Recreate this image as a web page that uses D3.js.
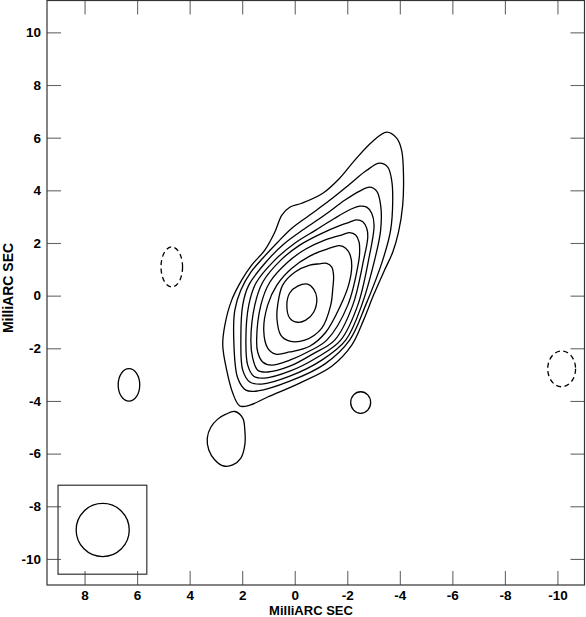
<!DOCTYPE html>
<html>
<head>
<meta charset="utf-8">
<script src="https://cdn.jsdelivr.net/npm/d3@7"></script>
<style>
body{margin:0;background:#fff;}
svg{display:block;font-family:"Liberation Sans",Arial,Helvetica,sans-serif;}
</style>
</head>
<body>
<svg id="map"></svg>
<script>
// tick values (milliarcsec)
var xTicks = [8,6,4,2,0,-2,-4,-6,-8,-10];
var yTicks = [10,8,6,4,2,0,-2,-4,-6,-8,-10];

// closed contours, [RA offset, Dec offset] in mas, outer level first
var level1 = [[-3.50,6.21],[-3.88,5.98],[-4.07,5.52],[-4.14,4.57],[-4.11,3.44],[-3.95,2.41],[-3.73,1.65],[-3.42,0.97],[-3.00,0.02],[-2.62,-0.93],[-2.17,-1.88],[-1.41,-2.68],[-0.19,-3.32],[1.03,-3.85],[1.71,-4.16],[2.09,-4.19],[2.36,-3.70],[2.59,-2.83],[2.74,-1.88],[2.66,-1.12],[2.40,-0.17],[2.02,0.59],[1.64,1.16],[1.14,1.73],[0.76,2.41],[0.49,3.06],[0.19,3.36],[-0.27,3.51],[-1.07,3.89],[-1.71,4.46],[-2.28,5.14],[-2.93,5.83]];
var level2 = [[-3.23,5.03],[-3.54,4.88],[-3.69,4.38],[-3.73,3.62],[-3.65,2.49],[-3.35,1.35],[-2.70,-0.36],[-2.09,-1.69],[-1.14,-2.60],[0.19,-3.25],[1.41,-3.62],[1.86,-3.59],[2.17,-3.13],[2.32,-1.69],[2.28,-0.55],[2.05,0.21],[1.67,0.89],[1.22,1.42],[0.65,2.03],[0.11,2.56],[-0.57,3.06],[-1.33,3.62],[-2.09,4.23],[-2.74,4.76]];
var level3 = [[-2.85,4.12],[-3.12,3.97],[-3.27,3.44],[-3.27,2.49],[-3.04,1.35],[-2.55,-0.36],[-1.94,-1.69],[-1.03,-2.45],[0.19,-3.06],[1.26,-3.36],[1.71,-3.28],[1.98,-2.83],[2.05,-1.69],[1.98,-0.36],[1.75,0.40],[1.03,1.35],[0.38,1.99],[-0.30,2.49],[-1.14,3.06],[-1.90,3.62],[-2.47,3.97]];
var level4 = [[-2.47,3.40],[-2.74,3.36],[-2.93,3.13],[-3.02,2.68],[-2.81,1.35],[-2.40,-0.36],[-1.75,-1.69],[-0.88,-2.33],[0.19,-2.87],[1.14,-3.13],[1.56,-3.06],[1.79,-2.64],[1.86,-1.69],[1.75,-0.36],[1.48,0.47],[0.76,1.35],[0.00,1.99],[-0.80,2.49],[-1.52,2.94],[-2.17,3.30]];
var level5 = [[-2.36,2.88],[-2.59,2.81],[-2.74,2.56],[-2.78,2.22],[-2.62,1.35],[-2.21,-0.36],[-1.52,-1.69],[-0.68,-2.22],[0.19,-2.68],[1.03,-2.90],[1.41,-2.83],[1.60,-2.37],[1.67,-1.69],[1.52,-0.36],[1.22,0.51],[0.53,1.35],[-0.19,1.92],[-0.95,2.33],[-1.71,2.66],[-2.09,2.79]];
var level6 = [[-2.09,2.39],[-2.32,2.30],[-2.45,2.03],[-2.47,1.65],[-2.43,1.27],[-2.02,-0.36],[-1.22,-1.69],[-0.49,-2.14],[0.19,-2.45],[0.88,-2.64],[1.22,-2.52],[1.41,-2.14],[1.45,-1.69],[1.29,-0.36],[0.95,0.51],[0.27,1.27],[-0.42,1.77],[-1.14,2.11],[-1.83,2.32]];
var level7 = [[-1.71,1.90],[-1.94,1.80],[-2.11,1.54],[-2.17,1.12],[-2.05,0.40],[-1.75,-0.36],[-1.18,-1.39],[-0.57,-1.92],[0.19,-2.14],[0.72,-2.22],[1.03,-1.99],[1.18,-1.31],[1.03,-0.36],[0.68,0.40],[0.11,1.04],[-0.57,1.50],[-1.18,1.75],[-1.45,1.84]];
var level8 = [[-1.22,1.23],[-1.41,1.08],[-1.48,0.74],[-1.45,0.29],[-1.37,-0.36],[-1.03,-1.23],[-0.38,-1.69],[0.19,-1.73],[0.53,-1.50],[0.68,-0.85],[0.65,-0.36],[0.46,0.40],[0.00,0.89],[-0.57,1.16],[-0.95,1.21]];
var level9 = [[-0.49,0.44],[-0.72,0.25],[-0.84,-0.10],[-0.72,-0.63],[-0.42,-0.93],[-0.11,-1.01],[0.19,-0.85],[0.30,-0.36],[0.19,0.10],[-0.11,0.36]];
var southBlob = [[2.28,-4.40],[1.98,-4.65],[1.90,-5.10],[1.90,-5.67],[2.05,-6.17],[2.36,-6.43],[2.70,-6.47],[3.04,-6.24],[3.27,-5.86],[3.33,-5.41],[3.19,-4.99],[2.93,-4.69],[2.62,-4.50]];
var solidRings = [level1,level2,level3,level4,level5,level6,level7,level8,level9,southBlob];

// small isolated components: centre and semi-axes in mas
var solidSpots = [{cx:6.31,cy:-3.39,rx:0.41,ry:0.62},{cx:-2.51,cy:-4.06,rx:0.38,ry:0.41}];
var negativeSpots = [{cx:4.68,cy:1.09,rx:0.41,ry:0.76},{cx:-10.16,cy:-2.78,rx:0.53,ry:0.68}];

// restoring beam and its box
var beam = {cx:7.31,cy:-8.90,r:1.01};
var beamBox = {x0:9.01,x1:5.63,y0:-7.20,y1:-10.58};

var W = 586, H = 617;
var frame = {left:47, right:584.5, top:0.5, bottom:585};

var svg = d3.select("#map").attr("width",W).attr("height",H);

var x = d3.scaleLinear().domain([9.43,-11.03]).range([frame.left,frame.right]),
    y = d3.scaleLinear().domain([-10.99,11.21]).range([frame.bottom,frame.top]);

var fmt = d => String(d);

function styleAxis(g){
  g.select(".domain").remove();
  g.selectAll(".tick line").attr("stroke","#666").attr("stroke-width",1.1);
  g.selectAll(".tick text").attr("fill","#000")
   .style("font-size","13.5px").style("font-weight","bold")
   .style("font-family",'"Liberation Sans",Arial,sans-serif');
}

svg.append("g").attr("transform","translate(0,"+frame.bottom+")")
   .call(d3.axisBottom(x).tickValues(xTicks).tickSize(-14).tickPadding(5).tickFormat(fmt))
   .call(styleAxis);
svg.append("g").attr("transform","translate(0,"+frame.top+")")
   .call(d3.axisTop(x).tickValues(xTicks).tickSize(-14).tickFormat(""))
   .call(styleAxis);
svg.append("g").attr("transform","translate("+frame.left+",0)")
   .call(d3.axisLeft(y).tickValues(yTicks).tickSize(-14).tickPadding(6).tickFormat(fmt))
   .call(styleAxis);
svg.append("g").attr("transform","translate("+frame.right+",0)")
   .call(d3.axisRight(y).tickValues(yTicks).tickSize(-14).tickFormat(""))
   .call(styleAxis);

// frame
svg.append("rect")
   .attr("x",frame.left).attr("y",frame.top)
   .attr("width",frame.right-frame.left).attr("height",frame.bottom-frame.top)
   .attr("fill","none").attr("stroke","#333").attr("stroke-width",1.2);

// contours
var ring = d3.line().x(d=>x(d[0])).y(d=>y(d[1])).curve(d3.curveCatmullRomClosed.alpha(0.5));

svg.append("g").selectAll("path")
   .data(solidRings)
   .enter().append("path")
   .attr("d",ring)
   .attr("fill","none").attr("stroke","#000").attr("stroke-width",1.3);

function spot(sel){
  sel.attr("cx",d=>x(d.cx)).attr("cy",d=>y(d.cy))
     .attr("rx",d=>Math.abs(x(d.cx+d.rx)-x(d.cx)))
     .attr("ry",d=>Math.abs(y(d.cy+d.ry)-y(d.cy)))
     .attr("fill","none").attr("stroke","#000").attr("stroke-width",1.3);
}

svg.append("g").selectAll("ellipse").data(solidSpots)
   .enter().append("ellipse").call(spot);
svg.append("g").selectAll("ellipse").data(negativeSpots)
   .enter().append("ellipse").call(spot)
   .attr("stroke-dasharray","5,3.5");

// beam
svg.append("rect")
   .attr("x",x(beamBox.x0)).attr("y",y(beamBox.y0))
   .attr("width",x(beamBox.x1)-x(beamBox.x0)).attr("height",y(beamBox.y1)-y(beamBox.y0))
   .attr("fill","none").attr("stroke","#333").attr("stroke-width",1.2);
svg.append("ellipse")
   .attr("cx",x(beam.cx)).attr("cy",y(beam.cy))
   .attr("rx",Math.abs(x(beam.cx+beam.r)-x(beam.cx)))
   .attr("ry",Math.abs(y(beam.cy+beam.r)-y(beam.cy)))
   .attr("fill","none").attr("stroke","#000").attr("stroke-width",1.3);

// axis titles
svg.append("text")
   .attr("x",311).attr("y",614.5)
   .attr("text-anchor","middle")
   .style("font-size","13px").style("font-weight","bold")
   .text("MilliARC SEC");
svg.append("text")
   .attr("transform","translate(13,288) rotate(-90)")
   .attr("text-anchor","middle")
   .style("font-size","14px").style("font-weight","bold")
   .text("MilliARC SEC");
</script>
</body>
</html>
